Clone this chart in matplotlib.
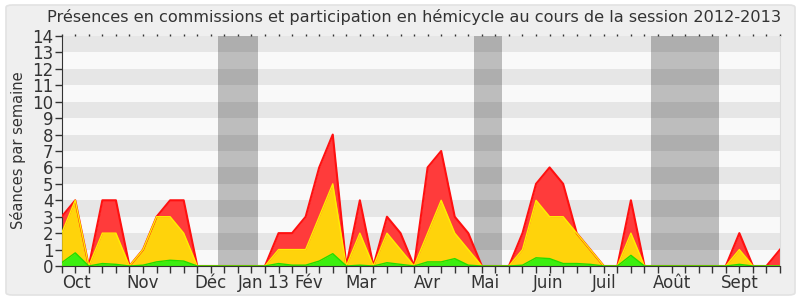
import matplotlib
matplotlib.use("Agg")
import matplotlib.pyplot as plt
from matplotlib.patches import FancyBboxPatch
import matplotlib.transforms as mtransforms
import numpy as np

plt.rcParams['font.family'] = ['DejaVu Sans']

title = "Présences en commissions et participation en hémicycle au cours de la session 2012-2013"
ylabel = "Séances par semaine"

# weekly values (cumulative levels)
total = [3, 4, 0, 4, 4, 0, 1, 3, 4, 4, 0, 0, 0, 0, 0, 0, 2, 2, 3, 6,
         8, 0, 4, 0, 3, 2, 0, 6, 7, 3, 2, 0, 0, 0, 2, 5, 6, 5, 2, 1,
         0, 0, 4, 0, 0, 0, 0, 0, 0, 0, 2, 0, 0, 1]
middle = [2, 4, 0, 2, 2, 0, 1, 3, 3, 2, 0, 0, 0, 0, 0, 0, 1, 1, 1, 3,
          5, 0, 2, 0, 2, 1, 0, 2, 4, 2, 1, 0, 0, 0, 1, 4, 3, 3, 2, 1,
          0, 0, 2, 0, 0, 0, 0, 0, 0, 0, 1, 0, 0, 0]
low = [0.2, 0.8, 0, 0.15, 0.1, 0, 0.05, 0.25, 0.35, 0.3, 0, 0, 0, 0, 0, 0, 0.15, 0.05, 0.05, 0.3,
       0.75, 0, 0.05, 0, 0.2, 0.1, 0, 0.25, 0.25, 0.45, 0.05, 0, 0, 0, 0.05, 0.5, 0.45, 0.15, 0.15, 0.1,
       0, 0, 0.65, 0, 0, 0, 0, 0, 0, 0, 0.1, 0, 0, 0]

month_labels = ["Oct", "Nov", "Déc", "Jan 13", "Fév", "Mar", "Avr", "Mai", "Juin", "Juil", "Août", "Sept"]
month_pos = [1.1, 6.0, 11.0, 14.9, 18.2, 22.1, 27.0, 31.2, 35.9, 40.0, 45.0, 50.0]

vacations = [(11.5, 14.5), (30.45, 32.5), (43.5, 48.5)]

x = np.arange(len(total))

fig = plt.figure(figsize=(8, 3), dpi=100)
fig.patch.set_facecolor('white')
frame = FancyBboxPatch((6/800, 5/300), 789/800, 290/300,
                       boxstyle="round,pad=0,rounding_size=0.008",
                       transform=fig.transFigure, facecolor='#efefef',
                       edgecolor='#e2e2e2', linewidth=1.2, zorder=-10)
fig.patches.append(frame)

ax = fig.add_axes([61.7/800, 1 - 266/300, (780 - 61.7)/800, (266 - 36)/300])
ax.set_facecolor('#f9f9f9')

for a, b in vacations:
    ax.axvspan(a, b, color='#bdbdbd', zorder=0.5, lw=0)
for k in range(1, 14, 2):
    ax.axhspan(k, k + 1, color='black', alpha=0.075, zorder=0.6, lw=0)

ax.fill_between(x, 0, total, color='#ff3b3b', lw=0, zorder=2)
ax.fill_between(x, 0, middle, color='#ffd30b', lw=0, zorder=3)
ax.fill_between(x, 0, low, color='#3cef10', lw=0, zorder=4)
ax.plot(x, total, color='#ff1010', lw=1.5, zorder=5)
ax.plot(x, middle, color='#ffee00', lw=1.0, zorder=6)
ax.plot(x, low, color='#22dd00', lw=1.0, zorder=7)

ax.set_xlim(0, len(total) - 1)
ax.set_ylim(0, 14)
ax.set_yticks(range(0, 15))
ax.tick_params(axis='y', labelsize=12, colors='#333333', length=5, width=1, pad=1)

ax.set_xticks(x)
ax.set_xticklabels([])
ax.tick_params(axis='x', which='major', length=5, width=1, color='#333333', top=True, direction='out')
for t in ax.xaxis.get_major_ticks():
    t.tick2line.set_markersize(1.5)
    t.tick2line.set_color('#666666')

trans = mtransforms.blended_transform_factory(ax.transData, ax.transAxes)
for pos, lab in zip(month_pos, month_labels):
    ax.text(pos, -0.035, lab, transform=trans, ha='center', va='top',
            fontsize=12, color='#333333', clip_on=False)

ax.spines['top'].set_visible(False)
ax.spines['right'].set_color('#dddddd')
ax.spines['left'].set_color('#333333')
ax.spines['bottom'].set_color('#333333')
ax.spines['bottom'].set_zorder(8)

fig.text(18/800, 1 - 150/300, ylabel, rotation=90, ha='center', va='center',
         fontsize=10.5, color='#333333')
fig.text(414/800, 1 - 17/300, title, ha='center', va='center', fontsize=11.6, color='#333333')

fig.savefig('out.png', dpi=100, facecolor=fig.get_facecolor())
